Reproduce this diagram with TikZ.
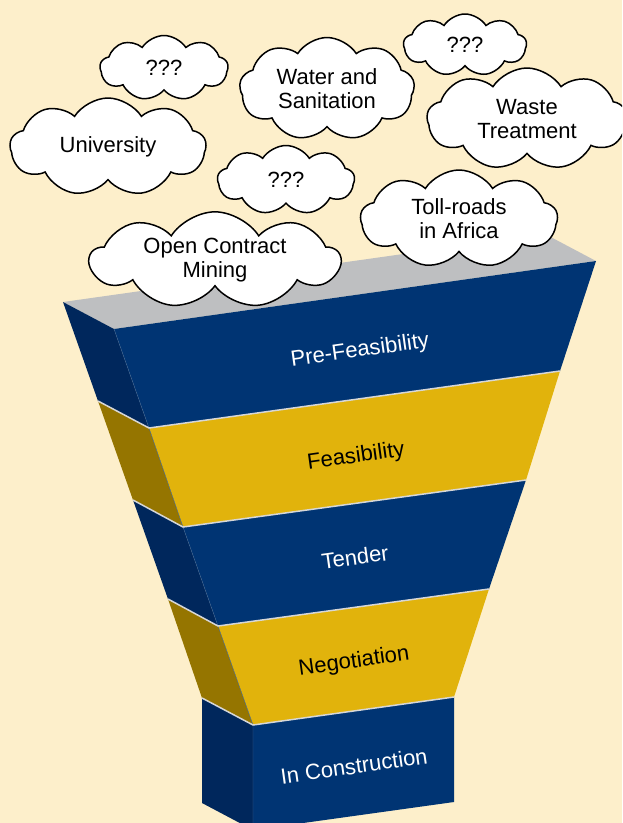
\documentclass[tikz,border=0pt]{standalone}
\usepackage{fontspec}
\setmainfont{Liberation Sans}
\usetikzlibrary{shapes.symbols}

\definecolor{cream}{RGB}{253,239,203}
\definecolor{stageblue}{RGB}{0,52,115}
\definecolor{sideblue}{RGB}{0,39,92}
\definecolor{stagegold}{RGB}{225,179,12}
\definecolor{sidegold}{RGB}{149,117,0}
\definecolor{lidgrey}{RGB}{190,191,193}
\definecolor{seam}{RGB}{215,215,215}

\tikzset{
  idea/.style={cloud, cloud puffs=9, cloud puff arc=115, cloud ignores aspect,
    draw=black, line width=1.5pt, fill=white, align=center, inner sep=0pt,
    font=\fontsize{22}{24}\selectfont},
  stage/.style={rotate=8, font=\fontsize{22}{24}\selectfont},
  seamline/.style={draw=seam, line width=1.5pt}
}

\begin{document}
\begin{tikzpicture}[x=1pt,y=-1pt]
\useasboundingbox (0,0) rectangle (622,823);
\clip (0,0) rectangle (622,823);
\fill[cream] (0,0) rectangle (622,823);

% front face of the funnel
\coordinate (L0) at (114,329); \coordinate (R0) at (596,261);
\coordinate (L1) at (149,428); \coordinate (R1) at (560,371);
\coordinate (L2) at (183,527); \coordinate (R2) at (526,480);
\coordinate (L3) at (218,626); \coordinate (R3) at (489,589);
\coordinate (L4) at (253,725); \coordinate (R4) at (454,697);
\coordinate (L5) at (253,830); \coordinate (R5) at (454,802);
% back edge of the left face, and the far corner of the lid
\coordinate (B0) at (63,302);
\coordinate (B1) at (98,401);
\coordinate (B2) at (133,500);
\coordinate (B3) at (168,599);
\coordinate (B4) at (202,698);
\coordinate (B5) at (202,803);
\coordinate (T0) at (545,234);

% lid
\fill[lidgrey] (B0) -- (L0) -- (R0) -- (T0) -- cycle;

% stages
\fill[stageblue] (L0) -- (R0) -- (R1) -- (L1) -- cycle;
\fill[sideblue] (B0) -- (L0) -- (L1) -- (B1) -- cycle;
\fill[stagegold] (L1) -- (R1) -- (R2) -- (L2) -- cycle;
\fill[sidegold] (B1) -- (L1) -- (L2) -- (B2) -- cycle;
\fill[stageblue] (L2) -- (R2) -- (R3) -- (L3) -- cycle;
\fill[sideblue] (B2) -- (L2) -- (L3) -- (B3) -- cycle;
\fill[stagegold] (L3) -- (R3) -- (R4) -- (L4) -- cycle;
\fill[sidegold] (B3) -- (L3) -- (L4) -- (B4) -- cycle;
\fill[stageblue] (L4) -- (R4) -- (R5) -- (L5) -- cycle;
\fill[sideblue] (B4) -- (L4) -- (L5) -- (B5) -- cycle;

% seams
\draw[stageblue!75!white, line width=0.4pt] (L0) -- (L1) -- (L2) -- (L3) -- (L4) -- (L5);
\draw[seamline] (B1) -- (L1) -- (R1);
\draw[seamline] (B2) -- (L2) -- (R2);
\draw[seamline] (B3) -- (L3) -- (R3);
\draw[seamline] (B4) -- (L4) -- (R4);

\node[stage, text=white] (prefeas) at (360,351) {Pre-Feasibility};
\node[stage] (feas) at (356,457) {Feasibility};
\node[stage, text=white] (tender) at (355,557) {Tender};
\node[stage] (nego) at (354,662) {Negotiation};
\node[stage, text=white] (build) at (354,766) {In Construction};

% ideas waiting to enter the funnel
\node[idea, minimum width=128pt, minimum height=65pt] (q1) at (164,68) {???};
\node[idea, minimum width=175pt, minimum height=103pt] (water) at (327,89) {Water and\\Sanitation};
\node[idea, minimum width=123pt, minimum height=62pt] (q2) at (465,45) {???};
\node[idea, minimum width=200pt, minimum height=102pt] (waste) at (527,119) {Waste\\Treatment};
\node[idea, minimum width=196pt, minimum height=98pt] (uni) at (108,147) {University};
\node[idea, minimum width=137pt, minimum height=69pt] (q3) at (286,180) {???};
\node[idea, minimum width=197pt, minimum height=98pt] (toll) at (459,219) {Toll-roads\\in Africa};
\node[idea, minimum width=250pt, minimum height=88pt] (mining) at (215,260) {Open Contract\\Mining};
\end{tikzpicture}
\end{document}
